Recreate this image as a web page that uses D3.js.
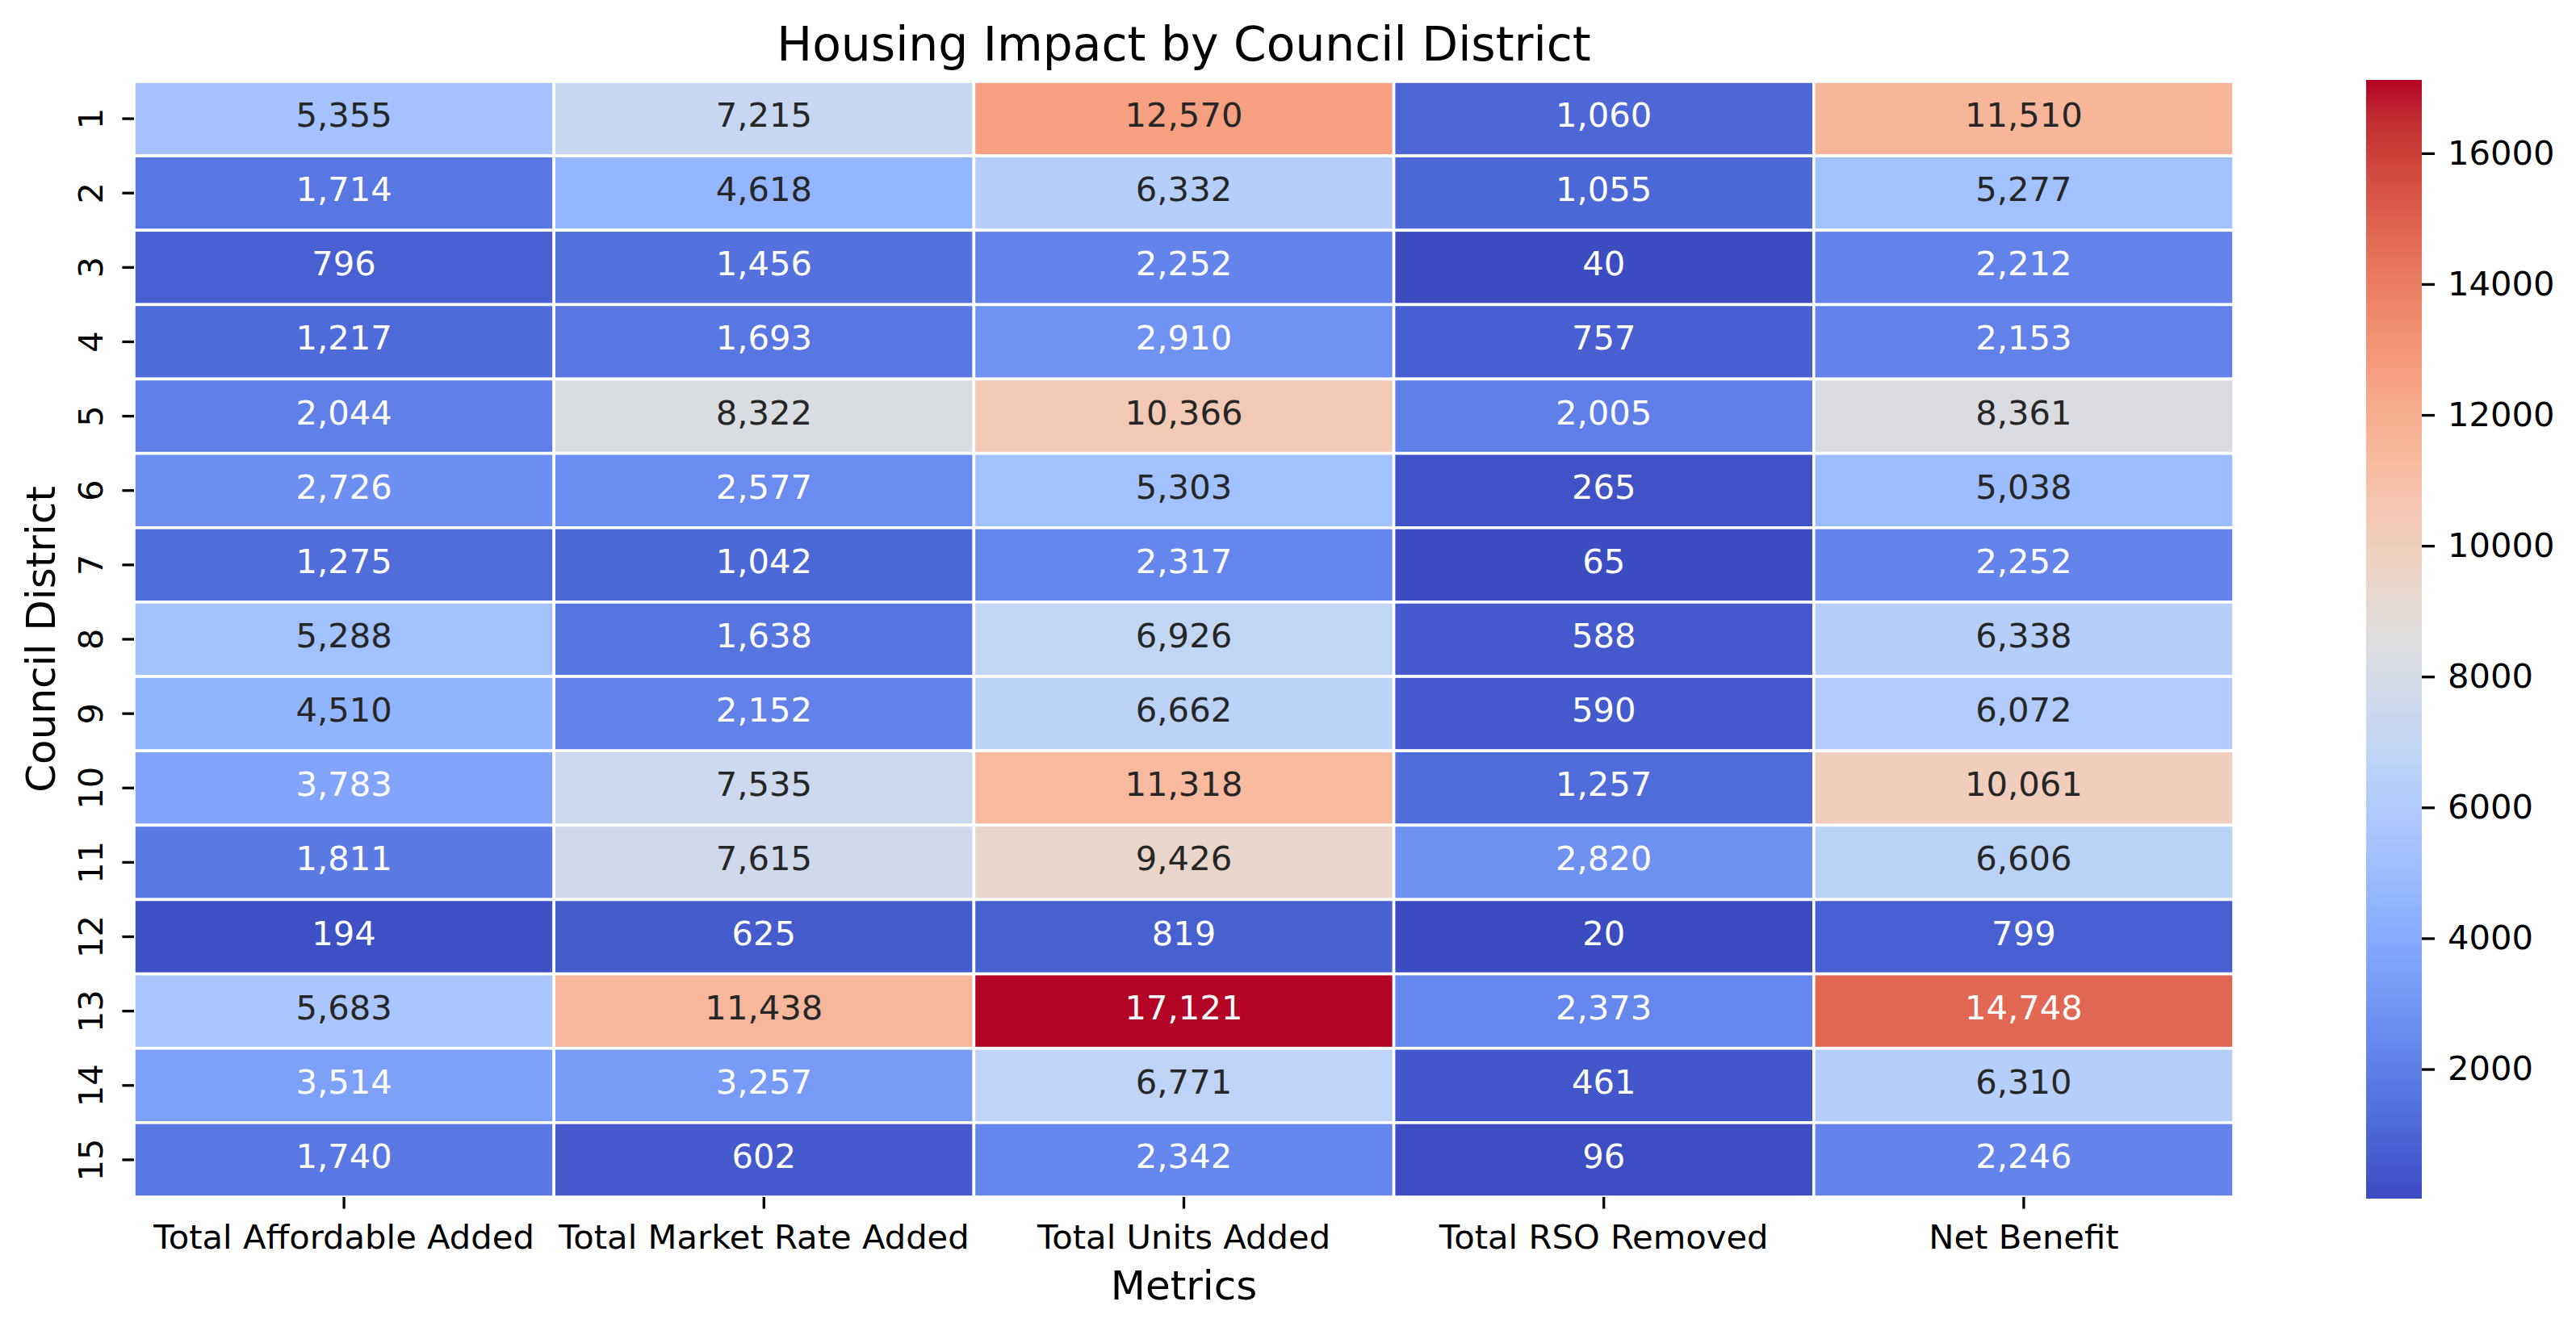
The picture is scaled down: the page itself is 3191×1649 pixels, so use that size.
<!DOCTYPE html>
<html>
<head>
<meta charset="utf-8">
<script src="https://cdn.jsdelivr.net/npm/d3@7"></script>
<style>
  body { margin: 0; background: #fff; }
  svg text { font-family: "DejaVu Sans", sans-serif; }
</style>
</head>
<body>
<div id="chart"></div>
<script>
// ---------- data ----------
const DISTRICTS = ["1","2","3","4","5","6","7","8","9","10","11","12","13","14","15"];
const METRICS = ["Total Affordable Added", "Total Market Rate Added", "Total Units Added", "Total RSO Removed", "Net Benefit"];

const affordable = [5355, 1714, 796, 1217, 2044, 2726, 1275, 5288, 4510, 3783, 1811, 194, 5683, 3514, 1740];
const marketRate = [7215, 4618, 1456, 1693, 8322, 2577, 1042, 1638, 2152, 7535, 7615, 625, 11438, 3257, 602];
const unitsAdded = [12570, 6332, 2252, 2910, 10366, 5303, 2317, 6926, 6662, 11318, 9426, 819, 17121, 6771, 2342];
const rsoRemoved = [1060, 1055, 40, 757, 2005, 265, 65, 588, 590, 1257, 2820, 20, 2373, 461, 96];
const netBenefit = [11510, 5277, 2212, 2153, 8361, 5038, 2252, 6338, 6072, 10061, 6606, 799, 14748, 6310, 2246];

const CBAR_TICKS = [2000, 4000, 6000, 8000, 10000, 12000, 14000, 16000];

// coolwarm (33 steps)
const COOLWARM = [
  [59,76,192],[68,90,204],[77,104,215],[87,117,225],[98,130,234],[108,142,241],[119,154,247],[130,165,251],
  [141,176,254],[152,185,255],[163,194,255],[174,201,253],[184,208,249],[194,213,244],[204,217,238],[213,219,230],
  [221,221,221],[229,216,209],[236,211,197],[241,204,185],[245,196,173],[247,187,160],[247,177,148],[247,166,135],
  [244,154,123],[241,141,111],[236,127,99],[229,112,88],[222,96,77],[213,80,66],[203,62,56],[192,40,47],[180,4,38]
].map(c => `rgb(${c[0]},${c[1]},${c[2]})`);

const columns = [affordable, marketRate, unitsAdded, rsoRemoved, netBenefit];
const cells = [];
DISTRICTS.forEach((d, i) => {
  METRICS.forEach((m, j) => cells.push({ district: d, metric: m, value: columns[j][i] }));
});

// ---------- layout ----------
const W = 3191, H = 1649;
const M = { left: 166, right: 2767, top: 101, bottom: 1483 };
const cbLeft = 2931, cbRight = 3000;
const TICK = 14.6, TICK_W = 3.3;
const FS_TICK = 41.7, FS_LABEL = 50, FS_TITLE = 58.3;

const svg = d3.select("#chart").append("svg").attr("width", W).attr("height", H);

const x = d3.scaleBand().domain(METRICS).range([M.left, M.right]);
const y = d3.scaleBand().domain(DISTRICTS).range([M.top, M.bottom]);

const vmin = d3.min(cells, d => d.value), vmax = d3.max(cells, d => d.value);
const color = d3.scaleSequential(d3.piecewise(d3.interpolateRgb, COOLWARM)).domain([vmin, vmax]);

// seaborn-style annotation colour
function luminance(c) {
  const rgb = d3.rgb(c);
  const lin = v => { v /= 255; return v <= 0.03928 ? v / 12.92 : Math.pow((v + 0.055) / 1.055, 2.4); };
  return 0.2126 * lin(rgb.r) + 0.7152 * lin(rgb.g) + 0.0722 * lin(rgb.b);
}

// cells
svg.append("g").selectAll("rect")
  .data(cells).join("rect")
    .attr("x", d => x(d.metric))
    .attr("y", d => y(d.district))
    .attr("width", x.bandwidth())
    .attr("height", y.bandwidth())
    .attr("fill", d => color(d.value))
    .attr("stroke", "#fff")
    .attr("stroke-width", 3.6);

// annotations
svg.append("g").selectAll("text")
  .data(cells).join("text")
    .attr("x", d => x(d.metric) + x.bandwidth() / 2)
    .attr("y", d => y(d.district) + y.bandwidth() / 2 + 10)
    .attr("text-anchor", "middle")
    .style("font-size", FS_TICK + "px")
    .attr("fill", d => luminance(color(d.value)) > 0.408 ? "#262626" : "#fff")
    .text(d => d3.format(",")(d.value));

// x axis
const gx = svg.append("g")
  .attr("transform", `translate(0,${M.bottom})`)
  .call(d3.axisBottom(x).tickSize(TICK));
gx.select(".domain").remove();
gx.selectAll(".tick line").attr("stroke-width", TICK_W);
gx.selectAll(".tick text")
  .attr("y", 64).attr("dy", null)
  .style("font-size", FS_TICK + "px").attr("fill", "#000");

// y axis
const gy = svg.append("g")
  .attr("transform", `translate(${M.left},0)`)
  .call(d3.axisLeft(y).tickSize(TICK));
gy.select(".domain").remove();
gy.selectAll(".tick line").attr("stroke-width", TICK_W);
gy.selectAll(".tick text")
  .attr("x", null).attr("dy", null)
  .attr("text-anchor", "middle")
  .attr("transform", "translate(-39,0) rotate(-90)")
  .style("font-size", FS_TICK + "px").attr("fill", "#000");

// axis labels + title
svg.append("text")
  .attr("x", (M.left + M.right) / 2).attr("y", 1610)
  .attr("text-anchor", "middle")
  .style("font-size", FS_LABEL + "px")
  .text("Metrics");

svg.append("text")
  .attr("transform", `translate(68,${(M.top + M.bottom) / 2}) rotate(-90)`)
  .attr("text-anchor", "middle")
  .style("font-size", FS_LABEL + "px")
  .text("Council District");

svg.append("text")
  .attr("x", (M.left + M.right) / 2).attr("y", 75)
  .attr("text-anchor", "middle")
  .style("font-size", FS_TITLE + "px")
  .text("Housing Impact by Council District");

// ---------- colorbar ----------
const cb = d3.scaleLinear().domain([vmin, vmax]).range([1485, 99]);
const grad = svg.append("defs").append("linearGradient")
  .attr("id", "cbar").attr("x1", 0).attr("y1", 1).attr("x2", 0).attr("y2", 0);
grad.selectAll("stop")
  .data(d3.range(0, 1.0001, 1 / 64)).join("stop")
    .attr("offset", t => t)
    .attr("stop-color", t => color(vmin + t * (vmax - vmin)));

svg.append("rect")
  .attr("x", cbLeft).attr("y", cb(vmax))
  .attr("width", cbRight - cbLeft)
  .attr("height", cb(vmin) - cb(vmax))
  .attr("fill", "url(#cbar)");

const gc = svg.append("g")
  .attr("transform", `translate(${cbRight},0)`)
  .call(d3.axisRight(cb).tickValues(CBAR_TICKS).tickFormat(d3.format("d")).tickSize(16).tickPadding(16));
gc.select(".domain").remove();
gc.selectAll(".tick line").attr("stroke-width", TICK_W);
gc.selectAll(".tick text").style("font-size", FS_TICK + "px").attr("fill", "#000");
</script>
</body>
</html>
